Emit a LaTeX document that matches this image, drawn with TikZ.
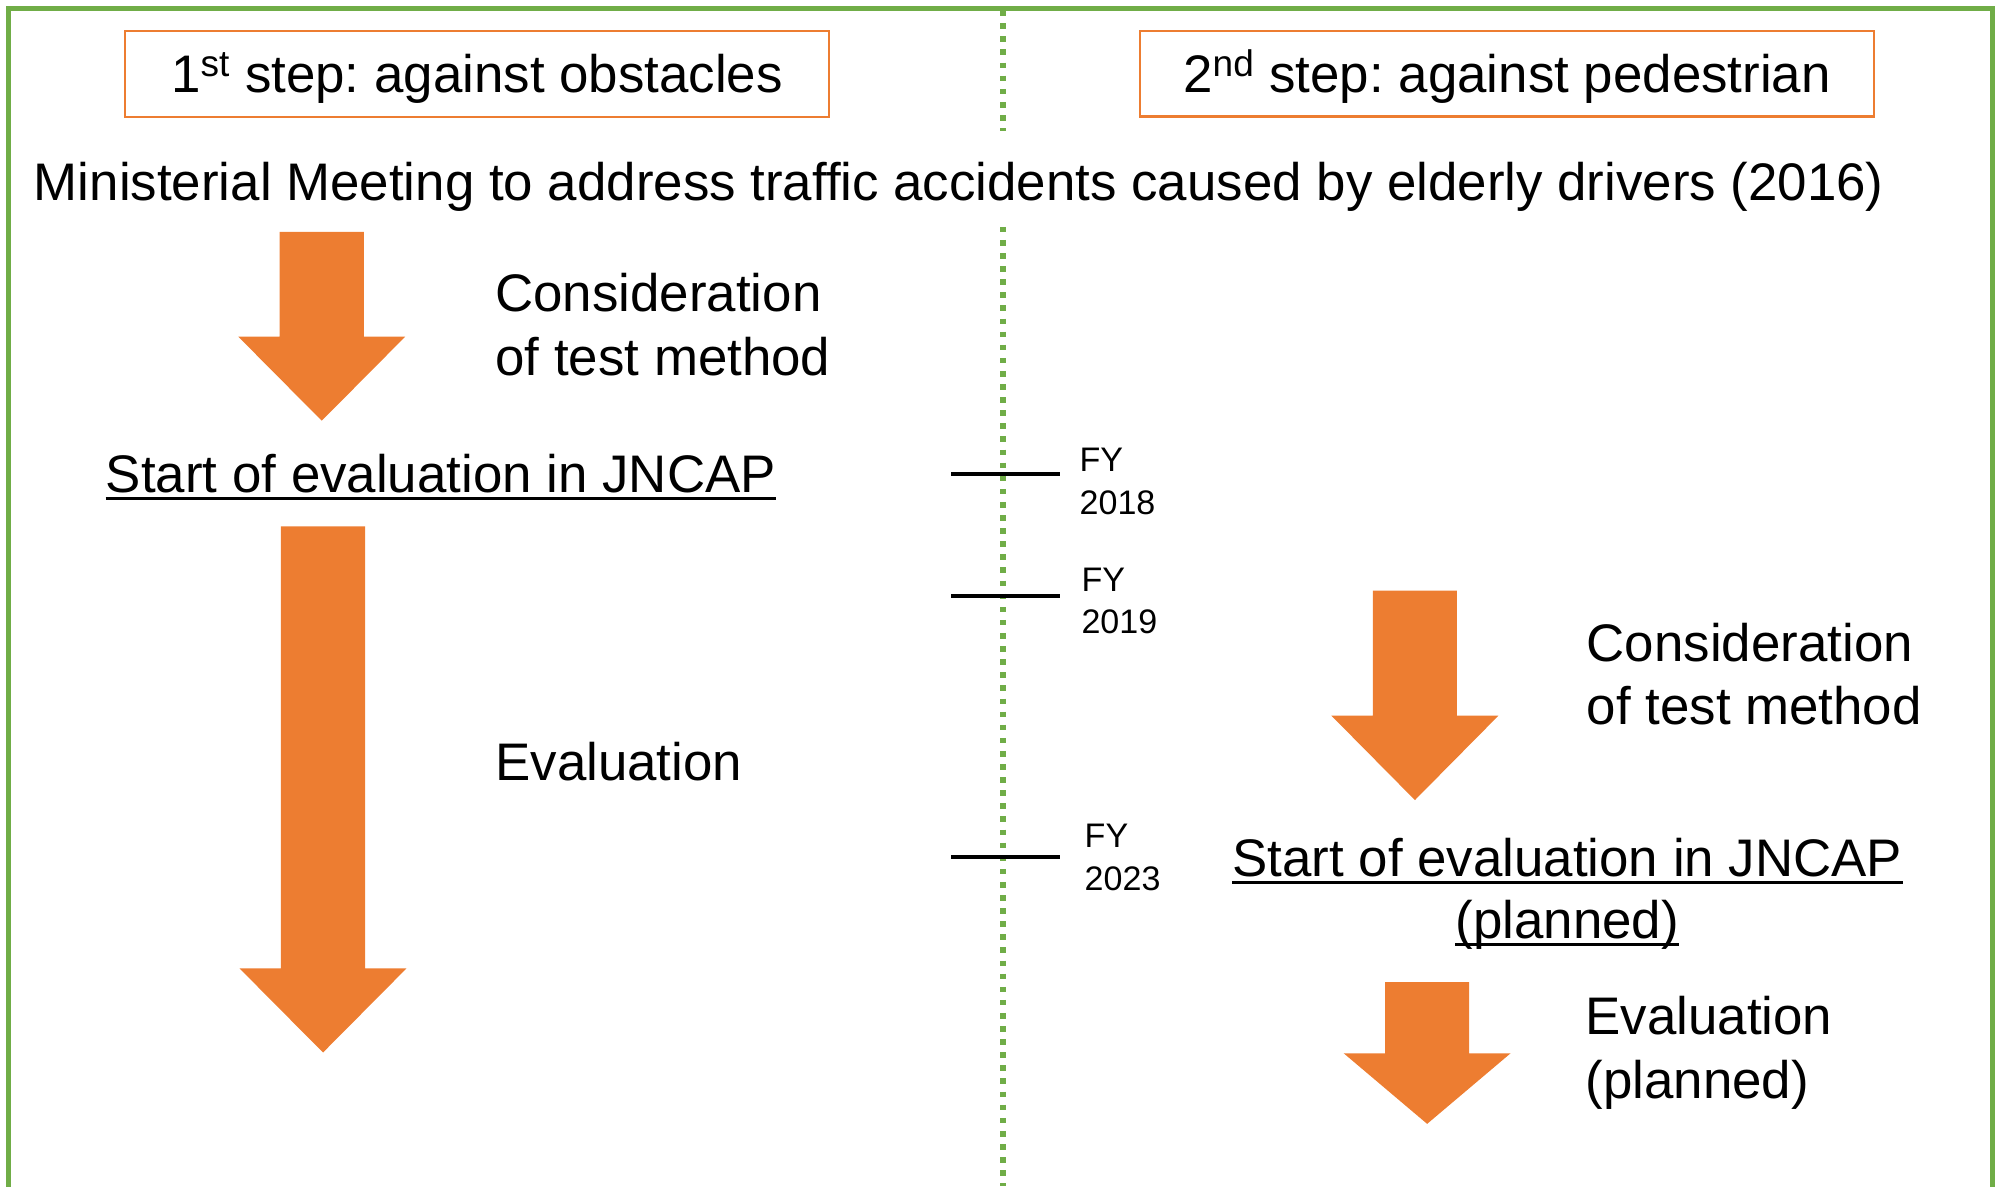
\documentclass[tikz,border=0pt]{standalone}
\usepackage{fontspec}
\setmainfont{Liberation Sans}
\frenchspacing
\usetikzlibrary{positioning}

\definecolor{frameGreen}{HTML}{70AD47}
\definecolor{accOrange}{HTML}{ED7D31}

\tikzset{
  big/.style={font=\fontsize{29.5}{35.2}\selectfont, inner sep=0pt},
  small/.style={font=\fontsize{19}{23.6}\selectfont, inner sep=0pt, align=left, anchor=base west},
  stepbox/.style={draw=accOrange, line width=1.2pt, big, text height=21pt, text depth=0pt, minimum height=1.68cm},
  underlined/.style={big, anchor=base, append after command={
      ([yshift=-3.4pt]\tikzlastnode.base west) edge[line width=1.6pt] ([yshift=-3.4pt]\tikzlastnode.base east)}},
  yearline/.style={line width=2.2pt},
  blockarrow/.style={fill=accOrange},
  divider/.style={frameGreen, line width=0.11cm, dash pattern=on 0.11cm off 0.147cm}
}

\begin{document}
\begin{tikzpicture}[x=0.025cm, y=-0.025cm]%[node distance=1cm]
   \useasboundingbox (0,0) rectangle (1568,931);
   \draw[frameGreen, line width=0.1cm] (6.5,940) -- (6.5,6.5) -- (1564,6.5) -- (1564,940);
   \draw[divider] (787,8) -- (787,103) (787,178) -- (787,931);

   \node[stepbox, minimum width=13.82cm] (step_1) at (374.4,58) {1\textsuperscript{st} step: against obstacles};
   \node[stepbox, minimum width=14.4cm] (step_2) at (1182.7,57.8) {2\textsuperscript{nd} step: against pedestrian};
   \node[big, anchor=base] (meeting) at (752.5,157) {Ministerial Meeting to address traffic accidents caused by elderly drivers (2016)};

   % left column (base = last line)
   \node[big, anchor=base west, align=left] (consider_1) at (388.5,294.3) {Consideration\\of test method};
   \node[underlined] (jncap_1) at (346,386.7) {Start of evaluation in JNCAP};
   \node[big, anchor=base west] (eval_1) at (388.5,612.5) {Evaluation};

   % right column
   \node[big, anchor=base west, align=left] (consider_2) at (1245,568.5) {Consideration\\of test method};
   \node[underlined] (jncap_2) at (1230,688) {Start of evaluation in JNCAP};
   \node[underlined] (planned_2) at (1230,736.5) {(planned)};
   \node[big, anchor=base west, align=left] (eval_2) at (1244,861.7) {Evaluation\\(planned)};

   \foreach \name/\y/\x/\base/\yr in {fy_18/372/847/403.4/2018, fy_19/467.7/848.5/497/2019, fy_23/672.3/851/698.5/2023}{
      \draw[yearline] (746.5,\y) -- (831.5,\y);
      \node[small] (\name) at (\x,\base) {FY\\\yr};
   }

   \foreach \x/\top/\neck/\tip in {252.5/182/264.2/330.2, 253.5/413/760/826, 1110.4/463.6/561.7/627.9, 1120/770.8/826.6/882}
      \fill[blockarrow] (\x-33,\top) -- (\x+33,\top) -- (\x+33,\neck) -- (\x+65.5,\neck)
         -- (\x,\tip) -- (\x-65.5,\neck) -- (\x-33,\neck) -- cycle;
\end{tikzpicture}
\end{document}
